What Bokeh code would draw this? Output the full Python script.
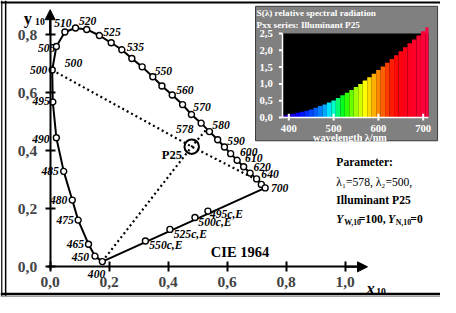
from bokeh.plotting import figure
from bokeh.models import (Range1d, LinearAxis, FixedTicker, CustomJSTickFormatter,
                          Arrow, NormalHead, Span, ColumnDataSource)
from bokeh.core.properties import value, field
from bokeh.embed import file_html
from bokeh.resources import INLINE

# ---------------- data ----------------
locus_nm = [400, 450, 465, 475, 480, 485, 490, 495, 500, 505, 510, 515, 520, 525,
            530, 535, 540, 545, 550, 555, 560, 565, 570, 575, 580, 585, 590, 595,
            600, 610, 620, 630, 640, 700]
locus_x = [0.177, 0.152, 0.130, 0.095, 0.075, 0.046, 0.021, 0.009, 0.007, 0.021,
           0.050, 0.086, 0.124, 0.167, 0.207, 0.243, 0.277, 0.312, 0.348, 0.379,
           0.414, 0.449, 0.479, 0.512, 0.540, 0.568, 0.591, 0.612, 0.634, 0.656,
           0.678, 0.700, 0.716, 0.729]
locus_y = [0.018, 0.037, 0.078, 0.161, 0.230, 0.329, 0.445, 0.568, 0.678, 0.759,
           0.809, 0.823, 0.818, 0.797, 0.772, 0.748, 0.718, 0.689, 0.655, 0.623,
           0.592, 0.559, 0.525, 0.495, 0.466, 0.438, 0.413, 0.390, 0.367, 0.345,
           0.323, 0.303, 0.284, 0.272]
labelled_nm = [400, 450, 465, 475, 480, 485, 490, 495, 500, 505, 510, 520, 525, 535,
               550, 560, 570, 580, 590, 600, 610, 620, 640, 700]

purple_names = ["550c,E", "525c,E", "500c,E", "495c,E"]
purple_x = [0.323, 0.406, 0.491, 0.535]
purple_y = [0.089, 0.129, 0.170, 0.192]

illuminant = "P25"
p25_x, p25_y = 0.480, 0.414
lambda1, lambda2 = 578, 500
lambda1_x, lambda1_y = 0.527, 0.470
lambda2_x, lambda2_y = 0.007, 0.678
comp1_x, comp1_y = 0.178, 0.020      # end of the lambda1 line on the purple line
comp2_x, comp2_y = 0.708, 0.296      # end of the lambda2 line on the locus
Y_W, Y_N = 100, 0

x_ticks = [0.0, 0.2, 0.4, 0.6, 0.8, 1.0]
x_tick_labels = ["0,0", "0,2", "0,4", "0,6", "0,8", "1,0"]
y_ticks = [0.0, 0.2, 0.4, 0.6, 0.8]
y_tick_labels = ["0,0", "0,2", "0,4", "0,6", "0,8"]

# inset: relative spectral radiation of illuminant P25
spec_nm = [390, 400, 410, 420, 430, 440, 450, 460, 470, 480, 490, 500, 510, 520, 530,
           540, 550, 560, 570, 580, 590, 600, 610, 620, 630, 640, 650, 660, 670, 680,
           690, 700, 710]
spec_s = [0.07, 0.09, 0.11, 0.14, 0.17, 0.20, 0.24, 0.29, 0.34, 0.39, 0.45, 0.51, 0.58,
          0.66, 0.74, 0.82, 0.91, 1.00, 1.10, 1.20, 1.30, 1.41, 1.52, 1.63, 1.74, 1.85,
          1.97, 2.09, 2.21, 2.32, 2.44, 2.56, 2.68]
spec_colors = ["#4000c0", "#2c00e0", "#1800f0", "#0800ff", "#0014ff", "#002cff", "#0044ff",
               "#0060ff", "#0080ff", "#00a8ff", "#00e0ff", "#00ffc8", "#00ff70", "#00ff20",
               "#30ff00", "#68ff00", "#a0ff00", "#d0ff00", "#ffff00", "#ffd800", "#ffb000",
               "#ff8800", "#ff6000", "#ff3c00", "#ff1c00", "#ff0808", "#ff0010", "#ff0018",
               "#ff0020", "#ff0028", "#ff0030", "#ff0038", "#ff0040"]
inset_y_ticks = [0.0, 0.5, 1.0, 1.5, 2.0, 2.5]
inset_y_labels = ["0,0", "0,5", "1,0", "1,5", "2,0", "2,5"]
inset_x_ticks = [400, 500, 600, 700]
inset_x_labels = ["400", "500", "600", "700"]

# ---------------- layout (pixel geometry) ----------------
W, H = 440, 297                       # figure size
L, R, T, B = 2, 454, 4, 311           # region of the original drawing shown in the figure
SF = 0.97                             # resulting scale of the drawing
X0, KX = 53.0, 303.0                  # x=0 position, px per unit
Y0, KY = 279.3, 300.0                 # y=0 position, px per unit
WX0, KW = 298.2, 0.46                 # inset: position of 400 nm, px per nm
SY0, KS = 125.0, 34.8                 # inset: position of S=0, px per unit


def mx(X): return (X - X0) / KX
def my(Y): return (Y0 - Y) / KY
def wx(X): return 400 + (X - WX0) / KW
def sy(Y): return (SY0 - Y) / KS
def fs(v): return f"{v * SF:.1f}px"


FONT = value("Liberation Serif")

p = figure(width=W, height=H,
           x_range=Range1d(mx(L), mx(R)), y_range=Range1d(my(B), my(T)),
           x_axis_type=None, y_axis_type=None, toolbar_location=None,
           output_backend="svg", min_border=0, outline_line_color=None,
           background_fill_color="white", border_fill_color="white")
p.extra_x_ranges = {"wl": Range1d(wx(L), wx(R))}
p.extra_y_ranges = {"s": Range1d(sy(B), sy(T))}


def fmt(tk, lb):
    return CustomJSTickFormatter(args=dict(tk=tk, lb=lb), code="""
        for (let i = 0; i < tk.length; i++) {
            if (Math.abs(tk[i] - tick) < 1e-9) return lb[i];
        }
        return "";""")


axis_style = dict(fixed_location=0, axis_line_width=2, axis_line_color="black",
                  major_tick_line_width=2, major_tick_in=5, major_tick_out=5,
                  minor_tick_line_color=None,
                  major_label_text_font="Liberation Serif",
                  major_label_text_font_style="bold",
                  major_label_text_font_size=fs(16))
xa = LinearAxis(bounds=(-0.01, 1.06), ticker=FixedTicker(ticks=x_ticks),
                formatter=fmt(x_ticks, x_tick_labels), major_label_standoff=5, **axis_style)
ya = LinearAxis(bounds=(-0.01, 0.87), ticker=FixedTicker(ticks=y_ticks),
                formatter=fmt(y_ticks, y_tick_labels), major_label_standoff=8, **axis_style)
p.add_layout(xa, "below")
p.add_layout(ya, "left")
p.add_layout(Arrow(end=NormalHead(size=10, fill_color="black", line_color="black"),
                   x_start=1.0, y_start=0, x_end=mx(379), y_end=0,
                   line_width=2, line_color="black"))
p.add_layout(Arrow(end=NormalHead(size=10, fill_color="black", line_color="black"),
                   x_start=0, y_start=0.8, x_end=0, y_end=my(13.5),
                   line_width=2, line_color="black"))

# frame lines of the drawing
p.add_layout(Span(location=mx(3.3), dimension="height", line_color="black", line_width=1.2))
p.add_layout(Span(location=mx(7.3), dimension="height", line_color="black", line_width=1.5))
p.add_layout(Span(location=my(6), dimension="width", line_color="black", line_width=2))
p.add_layout(Span(location=my(307.5), dimension="width", line_color="black", line_width=2.5))
p.add_layout(Span(location=my(310), dimension="width", line_color="#a0a0a0", line_width=1.5))

# ---------------- main chart ----------------
p.line([lambda1_x, p25_x, comp1_x], [lambda1_y, p25_y, comp1_y],
       line_color="black", line_width=2.2, line_dash="2 3")
p.line([lambda2_x, p25_x, comp2_x], [lambda2_y, p25_y, comp2_y],
       line_color="black", line_width=2.2, line_dash="2 3")

p.line(locus_x + [locus_x[0]], locus_y + [locus_y[0]], line_color="black", line_width=2)
p.scatter(locus_x, locus_y, size=6, marker="circle", fill_color="white",
          line_color="black", line_width=1.4)
p.scatter(purple_x, purple_y, size=6, marker="circle", fill_color="white",
          line_color="black", line_width=1.4)
p.scatter([p25_x], [p25_y], size=14.5, marker="circle", fill_color=None,
          line_color="black", line_width=2)

# locus labels: (align, dx, dy) in pixels
label_layout = {
    400: ("center", -6, 13), 450: ("right", -6, 1), 465: ("right", -4.5, 0),
    475: ("right", -4.5, 0), 480: ("right", -5, 0), 485: ("right", -5, 0),
    490: ("right", -7, 1), 495: ("right", -3, -1), 500: ("right", -5, 0),
    505: ("right", -1, 2), 510: ("center", -2, -9), 520: ("center", 1, -9),
    525: ("left", 4, -4), 535: ("left", 5, -3), 550: ("left", 2, -6),
    560: ("left", 4, -5), 570: ("left", 2, -8), 580: ("left", 3, -7),
    590: ("left", 3, -6), 600: ("left", 3, -9), 610: ("left", 1.5, -9),
    620: ("left", 3.5, -6), 640: ("left", 0, -10.5), 700: ("left", 6, 0),
}
lx, ly, lt, la, ldx, ldy = [], [], [], [], [], []
for nm in labelled_nm:
    i = locus_nm.index(nm)
    a, dx, dy = label_layout[nm]
    lx.append(locus_x[i]); ly.append(locus_y[i]); lt.append(str(nm))
    la.append(a); ldx.append(dx * SF); ldy.append(dy * SF)
purple_layout = [(4, 5), (4, 5), (3.5, 5), (2, 4)]
for (nx, ny, nt), (dx, dy) in zip(zip(purple_x, purple_y, purple_names), purple_layout):
    lx.append(nx); ly.append(ny); lt.append(nt); la.append("left")
    ldx.append(dx * SF); ldy.append(dy * SF)
lab_src = ColumnDataSource(dict(x=lx, y=ly, text=lt, align=la, dx=ldx, dy=ldy))
p.text(x="x", y="y", text="text", source=lab_src, text_font=FONT,
       text_font_size=value(fs(12)), text_font_style=value("bold italic"),
       text_align=field("align"), text_baseline=value("middle"),
       x_offset=field("dx"), y_offset=field("dy"), text_color="black")

spec_src = ColumnDataSource(dict(
    x=[lambda1_x, lambda2_x, p25_x], y=[lambda1_y, lambda2_y, p25_y],
    text=[str(lambda1), str(lambda2), illuminant], align=["right", "left", "right"],
    style=["bold italic", "bold italic", "bold"], size=[fs(12), fs(12), fs(13)],
    dx=[-12.5 * SF, 13 * SF, -10 * SF], dy=[-1 * SF, -7 * SF, 9 * SF]))
p.text(x="x", y="y", text="text", source=spec_src, text_font=FONT,
       text_font_size=field("size"), text_font_style=field("style"),
       text_align=field("align"), text_baseline=value("middle"),
       x_offset=field("dx"), y_offset=field("dy"), text_color="black")


def txt(X, Y, s, size, style="bold", align="left", baseline="middle", color="black", inset=False):
    kw = {}
    if inset:
        xs, ys = wx(X), sy(Y)
        kw = dict(x_range_name="wl", y_range_name="s")
    else:
        xs, ys = mx(X), my(Y)
    p.text(x=[xs], y=[ys], text=[s], text_font=FONT, text_font_size=value(fs(size)),
           text_font_style=value(style), text_align=value(align),
           text_baseline=value(baseline), text_color=color, **kw)


txt(218, 264, "CIE 1964", 15)
txt(26, 23, "y", 17, baseline="alphabetic")
txt(37.5, 26, "10", 10, baseline="alphabetic")
txt(378, 302, "x", 17, style="bold italic", baseline="alphabetic")
txt(388, 305, "10", 10, baseline="alphabetic")

# parameter block
txt(347, 171, "Parameter:", 12)
txt(347, 192, f"λ₁={lambda1}, λ₂={lambda2},", 12, style="normal")
txt(347, 211, f"Illuminant {illuminant}", 12)
txt(347, 230, "Y", 12, style="bold italic")
txt(355, 233, "W,10", 8)
txt(370, 230, f"={Y_W},", 12)
txt(400, 230, "Y", 12, style="bold italic")
txt(408, 233, "N,10", 8)
txt(423, 230, f"={Y_N}", 12)

# ---------------- inset ----------------
ins = dict(x_range_name="wl", y_range_name="s")
p.quad(left=[wx(264)], right=[wx(451)], bottom=[sy(149)], top=[sy(10)],
       fill_color="#808080", line_color="#3a3a3a", line_width=1, **ins)
x_lo, x_hi = wx(291.7), wx(441.7)
p.quad(left=[x_lo], right=[x_hi], bottom=[inset_y_ticks[0]], top=[inset_y_ticks[-1]],
       fill_color="black", line_color=None, **ins)
p.quad(left=[nm - 5 for nm in spec_nm], right=[min(nm + 5, x_hi) for nm in spec_nm],
       bottom=[0] * len(spec_nm), top=spec_s, fill_color=spec_colors,
       line_color=None, **ins)
p.segment(x0=[x_lo], y0=[inset_y_ticks[0]], x1=[x_lo], y1=[inset_y_ticks[-1]],
          line_color="white", line_width=1.5, **ins)
p.segment(x0=[x_lo], y0=[0], x1=[x_hi], y1=[0], line_color="white", line_width=1.5, **ins)
p.segment(x0=[wx(288)] * len(inset_y_ticks), y0=inset_y_ticks,
          x1=[x_lo] * len(inset_y_ticks), y1=inset_y_ticks,
          line_color="white", line_width=2, **ins)
p.segment(x0=inset_x_ticks, y0=[sy(128)] * len(inset_x_ticks),
          x1=inset_x_ticks, y1=[sy(121)] * len(inset_x_ticks),
          line_color="white", line_width=2, **ins)
p.text(x=[x_lo] * len(inset_y_ticks), y=inset_y_ticks, text=inset_y_labels,
       text_font=FONT, text_font_size=value(fs(11)), text_font_style=value("bold"),
       text_align=value("right"), text_baseline=value("middle"), text_color="white",
       x_offset=-10 * SF, **ins)
p.text(x=inset_x_ticks, y=[0] * len(inset_x_ticks), text=inset_x_labels,
       text_font=FONT, text_font_size=value(fs(11)), text_font_style=value("bold"),
       text_align=value("center"), text_baseline=value("middle"), text_color="white",
       y_offset=11 * SF, **ins)
txt(265, 16.5, "S(λ) relative spectral radiation", 9.5, color="white", inset=True)
txt(265, 29.5, f"Pxx series: Illuminant {illuminant}", 9.5, color="white", inset=True)
txt(361, 145.5, "wavelength λ/nm", 10.5, align="center", color="white", inset=True)

open("out.html", "w").write(file_html(p, INLINE))
